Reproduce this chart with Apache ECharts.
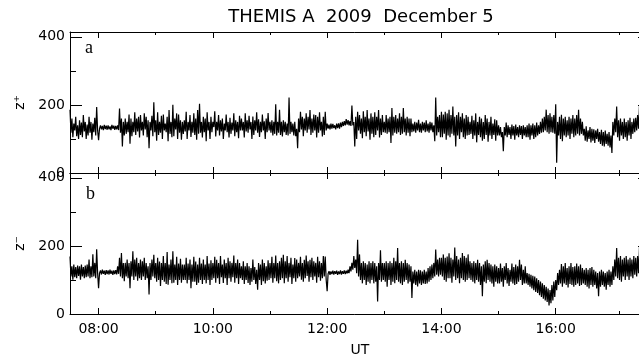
<!DOCTYPE html>
<html>
<head>
<meta charset="utf-8">
<script src="https://cdn.jsdelivr.net/npm/echarts@6/dist/echarts.min.js"></script>
<style>
html, body { margin: 0; padding: 0; background: #fff; }
#div-chart { width: 639px; height: 355px; }
</style>
</head>
<body>
<div id="div-chart"></div>
<script>
// one sample per minute, starting 07:30 UT
var startHour = 7.5;
var stepMinutes = 1;

var majorHours = [8, 10, 12, 14, 16];
var minorHours = [9, 11, 13, 15, 17.12];
var yMajor = [0, 200, 400];
var yMinor = [100, 300];

// panel a, z+ (one line = half an hour)
var zPlus = [
    186, 118, 160, 105, 145, 125, 165, 108, 140, 100, 155, 112, 148, 105, 170, 122, 150, 100, 142, 110, 165, 118, 150, 98, 145, 120, 162, 110, 194, 125,
    96, 130, 140, 128, 138, 126, 141, 129, 139, 127, 140, 128, 137, 126, 141, 130, 139, 127, 138, 128, 140, 126, 189, 118, 160, 78, 150, 110, 160, 115,
    150, 120, 172, 86, 160, 108, 150, 120, 178, 112, 160, 122, 165, 104, 170, 125, 150, 110, 175, 128, 165, 105, 155, 73, 150, 125, 168, 108, 208, 120,
    155, 95, 178, 112, 150, 118, 168, 100, 172, 125, 145, 120, 165, 93, 185, 115, 150, 105, 200, 108, 160, 128, 175, 100, 172, 118, 155, 98, 150, 115,
    155, 122, 180, 100, 150, 125, 170, 106, 150, 118, 175, 112, 160, 98, 185, 115, 203, 118, 150, 104, 165, 120, 160, 93, 178, 125, 150, 100, 165, 120,
    150, 135, 181, 107, 150, 125, 170, 110, 155, 122, 160, 100, 145, 125, 172, 120, 150, 104, 162, 115, 148, 125, 175, 108, 155, 120, 150, 102, 168, 125,
    160, 125, 150, 104, 175, 122, 155, 118, 168, 128, 150, 100, 166, 112, 155, 125, 178, 118, 158, 106, 150, 120, 172, 125, 152, 100, 160, 120, 176, 125,
    150, 118, 155, 110, 150, 115, 202, 110, 150, 118, 186, 112, 150, 107, 155, 120, 150, 112, 145, 110, 222, 115, 150, 120, 145, 110, 150, 108, 130, 73,
    160, 120, 180, 128, 165, 108, 160, 125, 175, 118, 165, 128, 185, 112, 160, 118, 172, 125, 170, 104, 165, 118, 178, 125, 150, 107, 165, 112, 180, 125,
    145, 130, 142, 128, 145, 130, 144, 132, 140, 128, 145, 132, 146, 130, 148, 135, 150, 138, 152, 140, 158, 142, 155, 140, 152, 138, 198, 140, 150, 78,
    165, 100, 180, 125, 170, 115, 160, 102, 181, 120, 165, 108, 185, 122, 160, 98, 175, 115, 165, 105, 178, 112, 165, 125, 185, 104, 160, 112, 170, 120,
    150, 118, 170, 115, 160, 120, 165, 88, 191, 110, 165, 118, 170, 115, 160, 120, 175, 112, 165, 115, 191, 120, 160, 110, 165, 118, 160, 108, 160, 120,
    145, 122, 150, 118, 148, 125, 156, 120, 145, 118, 150, 125, 148, 120, 155, 122, 145, 118, 150, 125, 148, 120, 140, 93, 222, 110, 165, 120, 170, 105,
    180, 105, 172, 115, 180, 98, 175, 110, 186, 105, 170, 115, 195, 110, 165, 78, 170, 110, 178, 100, 165, 120, 175, 105, 160, 100, 170, 110, 165, 112,
    150, 115, 168, 100, 155, 110, 175, 90, 150, 112, 165, 105, 160, 95, 150, 100, 170, 112, 160, 92, 150, 110, 165, 100, 145, 112, 158, 95, 155, 110,
    140, 110, 135, 105, 120, 64, 135, 110, 148, 105, 140, 112, 135, 100, 142, 110, 138, 98, 142, 110, 135, 105, 140, 112, 138, 100, 140, 110, 135, 105,
    140, 105, 145, 98, 140, 110, 145, 100, 140, 105, 148, 110, 140, 115, 150, 118, 160, 120, 165, 125, 186, 120, 170, 115, 175, 120, 165, 118, 170, 115,
    202, 30, 150, 110, 165, 100, 171, 93, 160, 110, 165, 105, 155, 110, 165, 100, 160, 115, 170, 105, 160, 110, 170, 115, 186, 110, 160, 115, 150, 110,
    130, 95, 137, 92, 125, 100, 135, 90, 130, 95, 128, 88, 125, 100, 130, 92, 120, 85, 127, 80, 120, 78, 125, 85, 115, 80, 120, 75, 110, 59,
    150, 110, 160, 120, 195, 105, 155, 95, 160, 110, 150, 100, 160, 105, 150, 95, 155, 110, 162, 100, 150, 115, 160, 120, 162, 125, 170, 130, 200, 125,
    170, 130, 180, 125, 185, 140, 175, 130, 170, 135
];

// panel b, z-
var zMinus = [
    169, 110, 140, 101, 145, 108, 138, 105, 142, 112, 140, 101, 145, 110, 138, 105, 142, 108, 145, 110, 160, 105, 140, 108, 175, 110, 150, 105, 190, 120,
    76, 120, 128, 116, 130, 118, 127, 115, 129, 117, 128, 116, 130, 118, 127, 115, 128, 117, 129, 116, 140, 118, 165, 110, 179, 105, 150, 96, 150, 110,
    160, 105, 150, 76, 155, 110, 184, 100, 160, 110, 165, 98, 150, 105, 160, 100, 155, 110, 165, 100, 150, 105, 140, 57, 150, 100, 160, 110, 174, 105,
    150, 95, 165, 100, 154, 82, 150, 100, 170, 95, 150, 88, 182, 86, 145, 100, 160, 90, 184, 92, 145, 100, 168, 85, 148, 100, 162, 92, 145, 100,
    145, 100, 165, 90, 148, 100, 160, 76, 145, 95, 168, 95, 154, 85, 145, 92, 165, 100, 148, 88, 160, 100, 145, 90, 170, 100, 148, 85, 158, 100,
    150, 105, 168, 92, 159, 105, 150, 88, 170, 108, 145, 91, 160, 105, 150, 85, 165, 105, 155, 95, 150, 108, 172, 92, 150, 105, 160, 88, 150, 105,
    140, 100, 155, 88, 140, 100, 150, 91, 140, 85, 135, 95, 160, 100, 138, 88, 130, 71, 150, 100, 145, 85, 160, 96, 150, 90, 140, 98, 158, 100,
    150, 105, 168, 92, 150, 105, 172, 96, 150, 90, 155, 100, 165, 105, 174, 90, 155, 105, 170, 95, 150, 108, 165, 88, 145, 105, 164, 95, 160, 105,
    150, 110, 168, 101, 150, 95, 159, 105, 172, 112, 155, 95, 159, 108, 165, 100, 155, 110, 150, 92, 168, 108, 155, 98, 150, 105, 170, 110, 169, 100,
    67, 118, 126, 115, 125, 117, 127, 116, 126, 118, 127, 115, 125, 117, 128, 116, 126, 118, 128, 117, 127, 119, 130, 120, 140, 125, 150, 130, 170, 135,
    160, 120, 218, 110, 175, 100, 150, 90, 155, 100, 150, 85, 145, 95, 155, 90, 150, 100, 155, 90, 150, 95, 140, 37, 150, 100, 187, 95, 150, 100,
    150, 95, 155, 80, 150, 100, 155, 85, 150, 95, 165, 90, 155, 100, 194, 95, 150, 90, 155, 85, 150, 95, 159, 100, 150, 90, 145, 95, 140, 47,
    125, 90, 130, 85, 125, 81, 130, 90, 128, 85, 125, 90, 130, 88, 125, 90, 135, 95, 140, 100, 145, 105, 150, 110, 189, 115, 160, 110, 165, 115,
    165, 110, 175, 100, 165, 95, 169, 105, 178, 105, 165, 92, 160, 110, 195, 100, 170, 105, 160, 90, 165, 105, 179, 100, 170, 95, 165, 100, 175, 105,
    155, 100, 150, 95, 155, 90, 150, 100, 159, 95, 150, 85, 140, 52, 145, 95, 155, 90, 159, 100, 150, 95, 145, 90, 140, 80, 145, 95, 140, 90,
    135, 90, 148, 95, 135, 80, 140, 100, 150, 90, 135, 82, 130, 95, 148, 90, 138, 85, 145, 88, 140, 95, 159, 100, 145, 85, 130, 90, 140, 90,
    120, 85, 118, 80, 115, 75, 112, 70, 110, 65, 105, 62, 100, 55, 95, 50, 90, 45, 85, 40, 80, 35, 75, 25, 70, 32, 85, 40, 95, 50,
    100, 70, 120, 85, 130, 90, 147, 80, 140, 90, 150, 85, 135, 78, 140, 88, 150, 85, 138, 80, 140, 85, 148, 90, 140, 82, 145, 85, 135, 90,
    130, 85, 135, 80, 130, 75, 135, 85, 138, 80, 130, 85, 125, 75, 120, 52, 125, 80, 130, 85, 125, 80, 120, 71, 125, 85, 130, 80, 125, 85,
    140, 100, 160, 110, 194, 105, 165, 100, 170, 95, 160, 110, 165, 100, 170, 110, 160, 100, 165, 110, 160, 105, 170, 115, 165, 110, 170, 120, 198, 115,
    165, 120, 175, 115, 170, 120, 165, 115, 170, 125
];

var font = 'DejaVu Sans';

function toPairs(values) {
    var out = [];
    for (var i = 0; i < values.length; i++) {
        out.push([startHour + i * stepMinutes / 60, values[i]]);
    }
    return out;
}

function hourLabel(v) {
    var h = Math.round(v);
    return (h < 10 ? '0' : '') + h + ':00';
}

// one x axis = one row of ticks on one edge of a panel
function xAx(grid, pos, ticks, len, withLine) {
    return {
        gridIndex: grid,
        type: 'value',
        position: pos,
        min: 7.5,
        max: 17.65,
        axisLine: { show: withLine, onZero: false, lineStyle: { color: '#000', width: 1 } },
        axisTick: { show: true, inside: true, length: len, customValues: ticks, lineStyle: { color: '#000' } },
        axisLabel: { show: false },
        splitLine: { show: false }
    };
}

function yAx(grid, pos, ticks, len, withLine) {
    return {
        gridIndex: grid,
        type: 'value',
        position: pos,
        min: 0,
        max: 414,
        axisLine: { show: withLine, onZero: false, lineStyle: { color: '#000', width: 1 } },
        axisTick: { show: true, inside: true, length: len, customValues: ticks, lineStyle: { color: '#000' } },
        axisLabel: { show: false },
        splitLine: { show: false }
    };
}

var myChart = echarts.init(document.getElementById('div-chart'), null, { renderer: 'canvas' });

var xAxes = [
    xAx(0, 'bottom', majorHours, 6, true),
    xAx(0, 'bottom', minorHours, 3, false),
    xAx(0, 'top', majorHours, 6, true),
    xAx(0, 'top', minorHours, 3, false),
    xAx(1, 'bottom', majorHours, 6, true),
    xAx(1, 'bottom', minorHours, 3, false),
    xAx(1, 'top', majorHours, 6, true),
    xAx(1, 'top', minorHours, 3, false)
];
// time labels and UT under the lower panel
xAxes[4].axisLabel = {
    show: true, customValues: majorHours, margin: 8,
    color: '#000', fontFamily: font, fontSize: 14,
    formatter: hourLabel
};
xAxes[4].name = 'UT';
xAxes[4].nameLocation = 'middle';
xAxes[4].nameGap = 29;
xAxes[4].nameTextStyle = { color: '#000', fontFamily: font, fontSize: 14 };

var yAxes = [
    yAx(0, 'left', yMajor, 12, true),
    yAx(0, 'left', yMinor, 6, false),
    yAx(0, 'right', yMajor, 12, true),
    yAx(1, 'left', yMajor, 12, true),
    yAx(1, 'left', yMinor, 6, false),
    yAx(1, 'right', yMajor, 12, true)
];
[0, 3].forEach(function (k, n) {
    yAxes[k].axisLabel = {
        show: true, customValues: yMajor, margin: 5,
        color: '#000', fontFamily: font, fontSize: 14
    };
    yAxes[k].name = n === 0 ? 'z\u207A' : 'z\u207B';
    yAxes[k].nameLocation = 'middle';
    yAxes[k].nameRotate = 90;
    yAxes[k].nameGap = 36;
    yAxes[k].nameTextStyle = { color: '#000', fontFamily: font, fontSize: 14 };
});

option = {
    animation: false,
    backgroundColor: '#fff',
    // the frame runs past the right edge of the picture
    grid: [
        { left: 70, top: 32, width: 580, height: 141, outerBoundsMode: 'none' },
        { left: 70, top: 173, width: 580, height: 141, outerBoundsMode: 'none' }
    ],
    xAxis: xAxes,
    yAxis: yAxes,
    graphic: [
        {
            type: 'text', x: 361, y: 17,
            style: { text: 'THEMIS A  2009  December 5', font: '18px "DejaVu Sans"', fill: '#000', textAlign: 'center', textVerticalAlign: 'middle' }
        },
        {
            type: 'text', x: 85, y: 48,
            style: { text: 'a', font: '18px "Liberation Serif"', fill: '#000', textAlign: 'left', textVerticalAlign: 'middle' }
        },
        {
            type: 'text', x: 86, y: 194,
            style: { text: 'b', font: '18px "Liberation Serif"', fill: '#000', textAlign: 'left', textVerticalAlign: 'middle' }
        }
    ],
    series: [
        {
            name: 'z+',
            type: 'line',
            xAxisIndex: 0,
            yAxisIndex: 0,
            data: toPairs(zPlus),
            showSymbol: false,
            symbol: 'none',
            clip: true,
            lineStyle: { color: '#000', width: 1.2 }
        },
        {
            name: 'z-',
            type: 'line',
            xAxisIndex: 4,
            yAxisIndex: 3,
            data: toPairs(zMinus),
            showSymbol: false,
            symbol: 'none',
            clip: true,
            lineStyle: { color: '#000', width: 1.2 }
        }
    ]
};

myChart.setOption(option);
</script>
</body>
</html>
